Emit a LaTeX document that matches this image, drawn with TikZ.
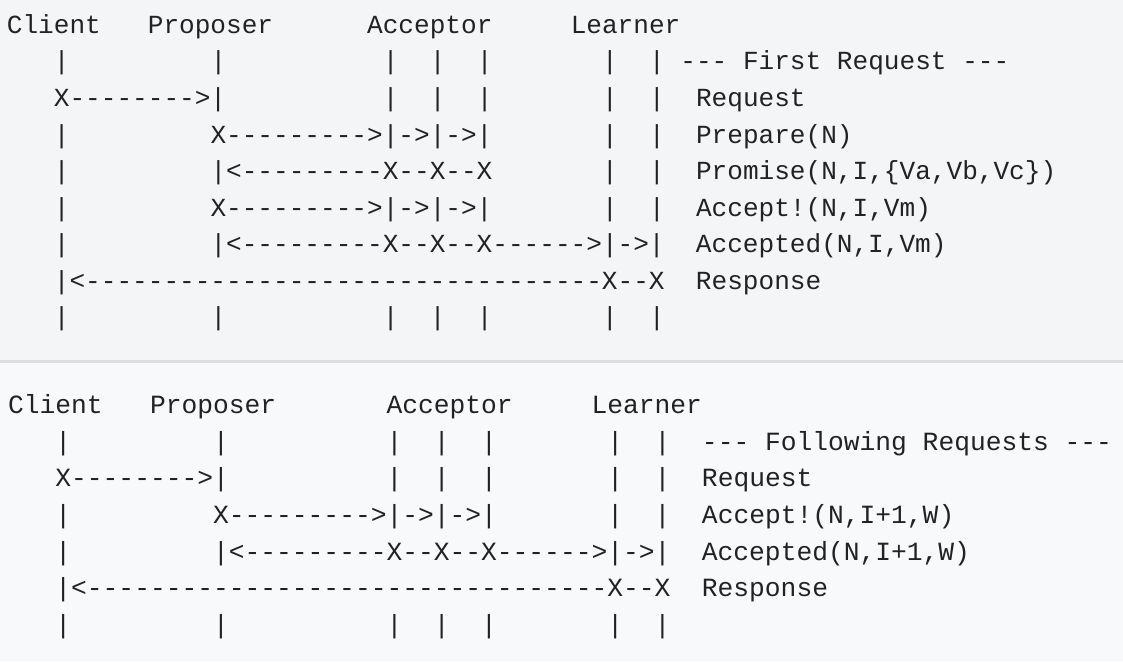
\documentclass[tikz,border=0pt]{standalone}
\usepackage{fontspec}
\setmonofont{Liberation Mono}
\definecolor{topbg}{HTML}{F3F5F7}
\definecolor{botbg}{HTML}{F8F9FA}
\definecolor{sepc}{HTML}{DCDEE0}
\definecolor{ink}{HTML}{222222}
\frenchspacing
\tikzset{
  txt/.style={anchor=base west, inner sep=0pt, outer sep=0pt, text=ink},
  topfont/.style={font=\ttfamily\fontsize{26.1}{30}\selectfont},
  botfont/.style={font=\ttfamily\fontsize{26.28}{30}\selectfont}
}
\newcommand\trow[3]{\node[txt,topfont] (#1) at (6.9pt,-#2pt) {#3};}
\newcommand\brow[3]{\node[txt,botfont] (#1) at (8.1pt,-#2pt) {#3};}
\begin{document}
\begin{tikzpicture}
\useasboundingbox (0,0) rectangle (1123pt,-661pt);
\fill[topbg] (0,0) rectangle (1123pt,-360pt);
\fill[sepc] (0,-360pt) rectangle (1123pt,-362.5pt);
\fill[botbg] (0,-362.5pt) rectangle (1123pt,-661pt);
% ---- First request ----
\trow{t0}{33.5}{Client~~~Proposer~~~~~~Acceptor~~~~~Learner}
\trow{t1}{70.0}{~~~|~~~~~~~~~|~~~~~~~~~~|~~|~~|~~~~~~~|~~|~---~First~Request~---}
\trow{t2}{106.5}{~~~X-------->|~~~~~~~~~~|~~|~~|~~~~~~~|~~|~~Request}
\trow{t3}{143.0}{~~~|~~~~~~~~~X--------->|->|->|~~~~~~~|~~|~~Prepare(N)}
\trow{t4}{179.5}{~~~|~~~~~~~~~|<---------X--X--X~~~~~~~|~~|~~Promise(N,I,\{Va,Vb,Vc\})}
\trow{t5}{216.0}{~~~|~~~~~~~~~X--------->|->|->|~~~~~~~|~~|~~Accept!(N,I,Vm)}
\trow{t6}{252.5}{~~~|~~~~~~~~~|<---------X--X--X------>|->|~~Accepted(N,I,Vm)}
\trow{t7}{289.0}{~~~|<---------------------------------X--X~~Response}
\trow{t8}{325.5}{~~~|~~~~~~~~~|~~~~~~~~~~|~~|~~|~~~~~~~|~~|}
% ---- Following requests ----
\brow{b0}{413.3}{Client~~~Proposer~~~~~~~Acceptor~~~~~Learner}
\brow{b1}{450.0}{~~~|~~~~~~~~~|~~~~~~~~~~|~~|~~|~~~~~~~|~~|~~---~Following~Requests~---}
\brow{b2}{486.7}{~~~X-------->|~~~~~~~~~~|~~|~~|~~~~~~~|~~|~~Request}
\brow{b3}{523.3}{~~~|~~~~~~~~~X--------->|->|->|~~~~~~~|~~|~~Accept!(N,I+1,W)}
\brow{b4}{560.0}{~~~|~~~~~~~~~|<---------X--X--X------>|->|~~Accepted(N,I+1,W)}
\brow{b5}{596.7}{~~~|<---------------------------------X--X~~Response}
\brow{b6}{633.3}{~~~|~~~~~~~~~|~~~~~~~~~~|~~|~~|~~~~~~~|~~|}
\end{tikzpicture}
\end{document}
